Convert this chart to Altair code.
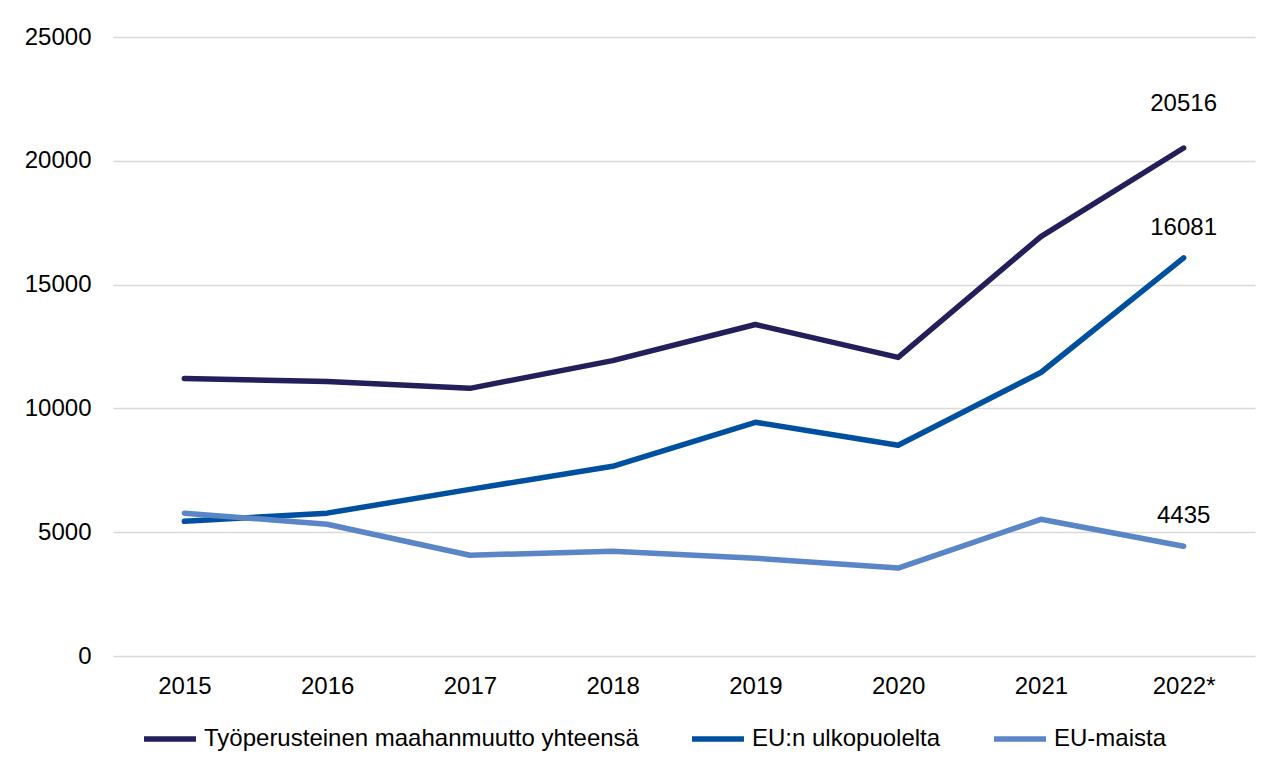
import altair as alt
import pandas as pd

years = ["2015", "2016", "2017", "2018", "2019", "2020", "2021", "2022*"]
series_names = ["Työperusteinen maahanmuutto yhteensä", "EU:n ulkopuolelta", "EU-maista"]
total = [11210, 11090, 10810, 11930, 13390, 12060, 16940, 20516]
non_eu = [5440, 5770, 6730, 7660, 9440, 8510, 11450, 16081]
eu = [5770, 5320, 4070, 4230, 3950, 3550, 5520, 4435]
colors = ["#221F5B", "#0150A0", "#5A85C6"]

rows = []
for name, vals in zip(series_names, [total, non_eu, eu]):
    for y, v in zip(years, vals):
        rows.append({"year": y, "series": name, "value": v})
df = pd.DataFrame(rows)
last = df[df["year"] == years[-1]]

FONT = "Liberation Sans"
FS = 24

x = alt.X("year:N", sort=years, scale=alt.Scale(type="point", padding=0.5),
          axis=alt.Axis(title=None, labelAngle=0, domain=False, ticks=False, grid=False,
                        labelPadding=18, labelFontSize=FS, labelFont=FONT, labelColor="#000000"))
y = alt.Y("value:Q", scale=alt.Scale(domain=[0, 25000], nice=False),
          axis=alt.Axis(title=None, values=[0, 5000, 10000, 15000, 20000, 25000], domain=False,
                        ticks=False, labelPadding=22, labelFontSize=FS, labelFont=FONT,
                        labelColor="#000000", gridColor="#d9d9d9", gridWidth=1.5, format="d"))
color = alt.Color("series:N", sort=series_names,
                  scale=alt.Scale(domain=series_names, range=colors),
                  legend=alt.Legend(title=None, orient="none", legendX=28, legendY=673,
                                    direction="horizontal", symbolType="stroke",
                                    symbolSize=2700, symbolStrokeWidth=5.5, symbolOffset=0,
                                    labelFontSize=FS, labelFont=FONT, labelColor="#000000",
                                    labelLimit=800, columnPadding=42, labelOffset=5))

lines = alt.Chart(df).mark_line(strokeWidth=5.5, strokeCap="round", strokeJoin="round").encode(
    x=x, y=y, color=color, order=alt.Order("year:N"))

lab_top = alt.Chart(last[last["series"] == series_names[0]]).mark_text(
    dy=-44, fontSize=FS, font=FONT, color="#000000").encode(
    x=alt.X("year:N", sort=years), y="value:Q", text="value:Q")
lab_rest = alt.Chart(last[last["series"] != series_names[0]]).mark_text(
    dy=-30, fontSize=FS, font=FONT, color="#000000").encode(
    x=alt.X("year:N", sort=years), y="value:Q", text="value:Q")

chart = alt.layer(lines, lab_top, lab_rest).properties(
    width=1142, height=619,
    autosize=alt.AutoSizeParams(type="none"),
    padding={"left": 105, "top": 29, "right": 19, "bottom": 100},
).configure(background="white").configure_view(strokeWidth=0, stroke=None)

chart.save("out.html", embed_options={"renderer": "svg", "actions": False})
